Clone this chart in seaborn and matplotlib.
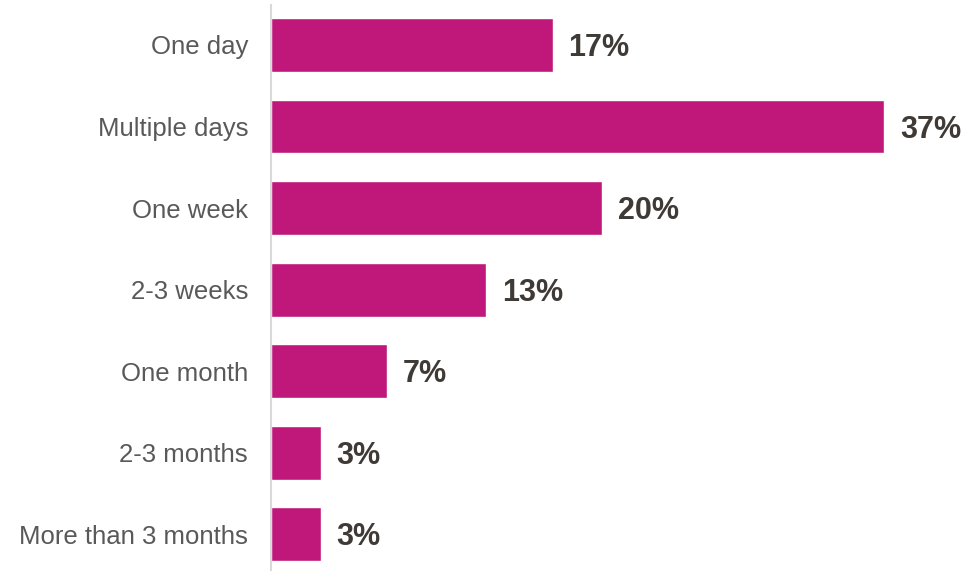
import pandas as pd
import matplotlib.pyplot as plt
import seaborn as sns

# dados
categorias = ['One day', 'Multiple days', 'One week', '2-3 weeks',
              'One month', '2-3 months', 'More than 3 months']
valores = [17, 37, 20, 13, 7, 3, 3]

df = pd.DataFrame({'Duracao': categorias, 'Percentual': valores})

sns.set_style('white')
plt.rcParams['font.family'] = ['Liberation Sans', 'DejaVu Sans']

fig = plt.figure(figsize=(9.65, 5.71), dpi=100)
ax = fig.add_axes([271 / 965, 0, 1 - 271 / 965, 566 / 571])

sns.barplot(data=df, y='Duracao', x='Percentual', color='#C0177A',
            saturation=1, width=0.66, orient='h', ax=ax)

ax.set_xlim(0, 41.9)
ax.set_ylim(6.45, -0.49)

for i, v in enumerate(valores):
    ax.annotate(f'{v}%', xy=(v, i), xytext=(16, -3), textcoords='offset pixels',
                va='center', ha='left', fontsize=22, fontweight='bold',
                color='#3F3A35')

ax.set_xlabel('')
ax.set_ylabel('')
ax.set_xticks([])
ax.tick_params(axis='y', length=0, pad=16.5, labelsize=18.5, labelcolor='#595959')
for s in ['top', 'right', 'bottom']:
    ax.spines[s].set_visible(False)
ax.spines['left'].set_color('#D9D9D9')
ax.spines['left'].set_linewidth(1.5)

plt.savefig('out.png', dpi=100)
